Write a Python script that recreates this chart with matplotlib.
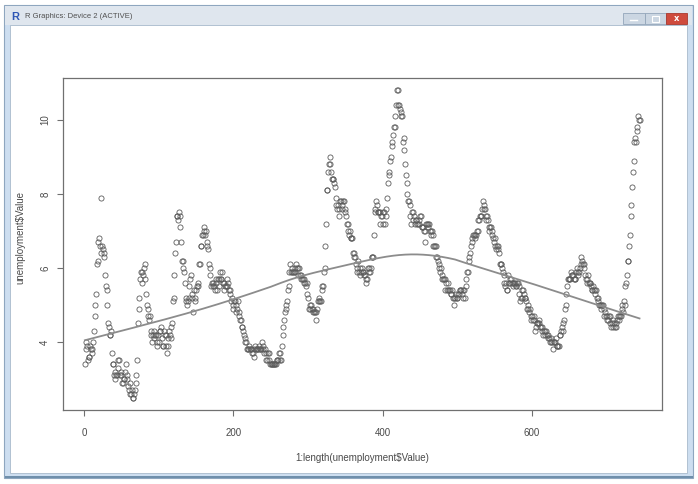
import numpy as np
import matplotlib
matplotlib.use("Agg")
import matplotlib.pyplot as plt
from matplotlib.patches import Rectangle

# ---- data: monthly unemployment rate values ----
rate_1948_1959 = [
    3.4, 3.8, 4.0, 3.9, 3.5, 3.6, 3.6, 3.9, 3.8, 3.7, 3.8, 4.0,
    4.3, 4.7, 5.0, 5.3, 6.1, 6.2, 6.7, 6.8, 6.6, 7.9, 6.4, 6.6,
    6.5, 6.4, 6.3, 5.8, 5.5, 5.4, 5.0, 4.5, 4.4, 4.2, 4.2, 4.3,
    3.7, 3.4, 3.4, 3.1, 3.0, 3.2, 3.1, 3.1, 3.3, 3.5, 3.5, 3.1,
    3.2, 3.1, 2.9, 2.9, 3.0, 3.0, 3.2, 3.4, 3.1, 3.0, 2.8, 2.7,
    2.9, 2.6, 2.6, 2.7, 2.5, 2.5, 2.6, 2.7, 2.9, 3.1, 3.5, 4.5,
    4.9, 5.2, 5.7, 5.9, 5.9, 5.6, 5.8, 6.0, 6.1, 5.7, 5.3, 5.0,
    4.9, 4.7, 4.6, 4.7, 4.3, 4.2, 4.0, 4.2, 4.1, 4.3, 4.2, 4.2,
    4.0, 3.9, 4.2, 4.0, 4.3, 4.3, 4.4, 4.1, 3.9, 3.9, 4.3, 4.2,
    4.2, 3.9, 3.7, 3.9, 4.1, 4.3, 4.2, 4.1, 4.4, 4.5, 5.1, 5.2,
    5.8, 6.4, 6.7, 7.4, 7.4, 7.3, 7.5, 7.4, 7.1, 6.7, 6.2, 6.2,
    6.0, 5.9, 5.6, 5.2, 5.1, 5.0, 5.1, 5.2, 5.5, 5.7, 5.8, 5.3,
]
rate_1960s = [
    5.2, 4.8, 5.4, 5.2, 5.1, 5.4, 5.5, 5.6, 5.5, 6.1, 6.1, 6.6,
    6.6, 6.9, 6.9, 7.0, 7.1, 6.9, 7.0, 6.6, 6.7, 6.5, 6.1, 6.0,
    5.8, 5.5, 5.6, 5.6, 5.5, 5.5, 5.4, 5.7, 5.6, 5.4, 5.7, 5.5,
    5.7, 5.9, 5.7, 5.7, 5.9, 5.6, 5.6, 5.4, 5.5, 5.5, 5.7, 5.5,
    5.6, 5.4, 5.4, 5.3, 5.1, 5.2, 4.9, 5.0, 5.1, 5.1, 4.8, 5.0,
    4.9, 5.1, 4.7, 4.8, 4.6, 4.6, 4.4, 4.4, 4.3, 4.2, 4.1, 4.0,
    4.0, 3.8, 3.8, 3.8, 3.9, 3.8, 3.8, 3.8, 3.7, 3.7, 3.6, 3.8,
    3.9, 3.8, 3.8, 3.8, 3.8, 3.9, 3.8, 3.8, 3.8, 4.0, 3.9, 3.8,
    3.7, 3.8, 3.7, 3.5, 3.5, 3.7, 3.7, 3.5, 3.4, 3.4, 3.4, 3.4,
    3.4, 3.4, 3.4, 3.4, 3.4, 3.5, 3.5, 3.5, 3.7, 3.7, 3.5, 3.5,
]
rate_1970s = [
    3.9, 4.2, 4.4, 4.6, 4.8, 4.9, 5.0, 5.1, 5.4, 5.5, 5.9, 6.1,
    5.9, 5.9, 6.0, 5.9, 5.9, 5.9, 6.0, 6.1, 6.0, 5.8, 6.0, 6.0,
    5.8, 5.7, 5.8, 5.7, 5.7, 5.7, 5.6, 5.6, 5.5, 5.6, 5.3, 5.2,
    4.9, 5.0, 4.9, 5.0, 4.9, 4.9, 4.8, 4.8, 4.8, 4.6, 4.8, 4.9,
    5.1, 5.2, 5.1, 5.1, 5.1, 5.4, 5.5, 5.5, 5.9, 6.0, 6.6, 7.2,
    8.1, 8.1, 8.6, 8.8, 9.0, 8.8, 8.6, 8.4, 8.4, 8.4, 8.3, 8.2,
    7.9, 7.7, 7.6, 7.7, 7.4, 7.6, 7.8, 7.8, 7.6, 7.7, 7.8, 7.8,
    7.5, 7.6, 7.4, 7.2, 7.0, 7.2, 6.9, 7.0, 6.8, 6.8, 6.8, 6.4,
    6.4, 6.3, 6.3, 6.1, 6.0, 5.9, 6.2, 5.9, 6.0, 5.8, 5.9, 6.0,
    5.9, 5.9, 5.8, 5.8, 5.6, 5.7, 5.7, 6.0, 5.9, 6.0, 5.9, 6.0,
]
rate_1980s = [
    6.3, 6.3, 6.3, 6.9, 7.5, 7.6, 7.8, 7.7, 7.5, 7.5, 7.5, 7.2,
    7.5, 7.4, 7.4, 7.2, 7.5, 7.5, 7.2, 7.4, 7.6, 7.9, 8.3, 8.5,
    8.6, 8.9, 9.0, 9.3, 9.4, 9.6, 9.8, 9.8, 10.1, 10.4, 10.8, 10.8,
    10.4, 10.4, 10.3, 10.2, 10.1, 10.1, 9.4, 9.5, 9.2, 8.8, 8.5, 8.3,
    8.0, 7.8, 7.8, 7.7, 7.4, 7.2, 7.5, 7.5, 7.3, 7.4, 7.2, 7.3,
    7.3, 7.2, 7.2, 7.3, 7.2, 7.4, 7.4, 7.1, 7.1, 7.1, 7.0, 7.0,
    6.7, 7.2, 7.2, 7.1, 7.2, 7.2, 7.0, 6.9, 7.0, 7.0, 6.9, 6.6,
    6.6, 6.6, 6.6, 6.3, 6.3, 6.2, 6.1, 6.0, 5.9, 6.0, 5.8, 5.7,
    5.7, 5.7, 5.7, 5.4, 5.6, 5.4, 5.4, 5.6, 5.4, 5.4, 5.3, 5.3,
    5.4, 5.2, 5.0, 5.2, 5.2, 5.3, 5.2, 5.2, 5.3, 5.3, 5.4, 5.4,
]
rate_1990s = [
    5.4, 5.3, 5.2, 5.4, 5.4, 5.2, 5.5, 5.7, 5.9, 5.9, 6.2, 6.3,
    6.4, 6.6, 6.8, 6.7, 6.9, 6.9, 6.8, 6.9, 6.9, 7.0, 7.0, 7.3,
    7.3, 7.4, 7.4, 7.4, 7.6, 7.8, 7.7, 7.6, 7.6, 7.3, 7.4, 7.4,
    7.3, 7.1, 7.0, 7.1, 7.1, 7.0, 6.9, 6.8, 6.7, 6.8, 6.6, 6.5,
    6.6, 6.6, 6.5, 6.4, 6.1, 6.1, 6.1, 6.0, 5.9, 5.8, 5.6, 5.5,
    5.6, 5.4, 5.4, 5.8, 5.6, 5.6, 5.7, 5.7, 5.6, 5.5, 5.6, 5.6,
    5.6, 5.5, 5.5, 5.6, 5.6, 5.3, 5.5, 5.1, 5.2, 5.2, 5.4, 5.4,
    5.3, 5.2, 5.2, 5.1, 4.9, 5.0, 4.9, 4.8, 4.9, 4.7, 4.6, 4.7,
    4.6, 4.6, 4.7, 4.3, 4.4, 4.5, 4.5, 4.5, 4.6, 4.5, 4.4, 4.4,
    4.3, 4.4, 4.2, 4.3, 4.2, 4.3, 4.3, 4.2, 4.2, 4.1, 4.1, 4.0,
]
rate_2000s = [
    4.0, 4.1, 4.0, 3.8, 4.0, 4.0, 4.0, 4.1, 3.9, 3.9, 3.9, 3.9,
    4.2, 4.2, 4.3, 4.4, 4.3, 4.5, 4.6, 4.9, 5.0, 5.3, 5.5, 5.7,
    5.7, 5.7, 5.7, 5.9, 5.8, 5.8, 5.8, 5.7, 5.7, 5.7, 5.9, 6.0,
    5.8, 5.9, 5.9, 6.0, 6.1, 6.3, 6.2, 6.1, 6.1, 6.0, 5.8, 5.7,
    5.7, 5.6, 5.8, 5.6, 5.6, 5.6, 5.5, 5.4, 5.4, 5.5, 5.4, 5.4,
    5.3, 5.4, 5.2, 5.2, 5.1, 5.0, 5.0, 4.9, 5.0, 5.0, 5.0, 4.9,
    4.7, 4.8, 4.7, 4.7, 4.6, 4.6, 4.7, 4.7, 4.5, 4.4, 4.5, 4.4,
    4.6, 4.5, 4.4, 4.5, 4.4, 4.6, 4.7, 4.6, 4.7, 4.7, 4.7, 5.0,
    4.9, 4.8, 5.1, 5.0, 5.5, 5.6, 5.8, 6.2, 6.2, 6.6, 6.9, 7.4,
    7.7, 8.2, 8.6, 8.9, 9.4, 9.5, 9.4, 9.7, 9.8, 10.1, 10.0, 10.0,
]
x_ticks = [0, 200, 400, 600]
y_ticks = [4, 6, 8, 10]
x_label = "1:length(unemployment$Value)"
y_label = "unemployment$Value"
window_title = "R Graphics: Device 2 (ACTIVE)"

values = np.array(rate_1948_1959 + rate_1960s + rate_1970s + rate_1980s
                  + rate_1990s + rate_2000s, dtype=float)
idx = np.arange(1, len(values) + 1, dtype=float)


def lowess(x, y, f=2.0 / 3.0, iters=3):
    n = len(x)
    ns = max(min(int(round(f * n)), n), 2)
    rw = np.ones(n)
    fit = np.zeros(n)
    for it in range(iters + 1):
        for i in range(n):
            d = np.abs(x - x[i])
            h = np.sort(d)[ns - 1]
            u = d / h
            w = np.where(u < 1, (1 - u ** 3) ** 3, 0.0) * rw
            sw = w.sum()
            xm = (w * x).sum() / sw
            ym = (w * y).sum() / sw
            vx = (w * (x - xm) ** 2).sum()
            if vx > 1e-12:
                b = (w * (x - xm) * (y - ym)).sum() / vx
            else:
                b = 0.0
            fit[i] = ym + b * (x[i] - xm)
        if it < iters:
            res = y - fit
            s = np.median(np.abs(res))
            u = res / (6 * s)
            rw = np.where(np.abs(u) < 1, (1 - u ** 2) ** 2, 0.0)
    return fit


smooth = lowess(idx, values)

W, H = 698, 484
fig = plt.figure(figsize=(W / 100, H / 100), dpi=100)
fig.patch.set_facecolor("white")

# ---- window frame (pixel coordinates) ----
bg = fig.add_axes([0, 0, 1, 1])
bg.set_xlim(0, W)
bg.set_ylim(H, 0)
bg.axis("off")
bg.add_patch(Rectangle((4, 5), 689, 473, facecolor="#cddef0",
                       edgecolor="#8ea6bf", lw=0.8))
bg.add_patch(Rectangle((5, 6), 687, 19, facecolor="#dfe6ee", edgecolor="none"))
bg.add_patch(Rectangle((4.5, 475.5), 688, 2.5, facecolor="#6f8fab", edgecolor="none"))
bg.add_patch(Rectangle((10, 25), 677, 448, facecolor="white",
                       edgecolor="#a9bacb", lw=0.6))
bg.text(15.5, 17, "R", color="#2f57b5", fontsize=8, fontweight="bold",
        ha="center", va="center", family="Liberation Sans")
bg.text(25, 17, window_title, color="#505050", fontsize=5.5,
        ha="left", va="center", family="Liberation Sans")
bg.add_patch(Rectangle((623, 13), 21.5, 11, facecolor="#cbd6e2",
                       edgecolor="#93a6ba", lw=0.6))
bg.add_patch(Rectangle((644.5, 13), 21.5, 11, facecolor="#cbd6e2",
                       edgecolor="#93a6ba", lw=0.6))
bg.add_patch(Rectangle((666, 13), 21, 11, facecolor="#cf4b3d",
                       edgecolor="#a8392e", lw=0.6))
bg.plot([630, 637], [20, 20], color="white", lw=1.0)
bg.add_patch(Rectangle((651.5, 15.5), 7, 6, facecolor="none",
                       edgecolor="white", lw=0.8))
bg.text(676.5, 18.5, "x", color="white", fontsize=6, fontweight="bold",
        ha="center", va="center", family="DejaVu Sans")

# ---- plot area ----
left, right, top, bottom = 62.7, 661.7, 78.0, 409.8
ax = fig.add_axes([left / W, 1 - bottom / H, (right - left) / W, (bottom - top) / H])
ax.set_facecolor("white")

n = len(values)
xr = (n - 1) * 0.04
ax.set_xlim(1 - xr, n + xr)
yr = (values.max() - values.min()) * 0.04
ax.set_ylim(values.min() - yr, values.max() + yr)

ax.plot(idx, values, linestyle="none", marker="o", markersize=3.7,
        markerfacecolor="none", markeredgecolor="#5c5c5c", markeredgewidth=0.6)
ax.plot(idx, smooth, color="#8c8c8c", lw=1.3)

for s in ax.spines.values():
    s.set_color("#707070")
    s.set_linewidth(0.9)
ax.set_xticks(x_ticks)
ax.set_yticks(y_ticks)
ax.tick_params(axis="both", direction="out", length=4, width=0.8,
               color="#707070", labelcolor="#4a4a4a", labelsize=7)
ax.tick_params(axis="x", pad=9)
ax.tick_params(axis="y", pad=5)
for lab in ax.get_xticklabels() + ax.get_yticklabels():
    lab.set_family("Liberation Sans")
for lab in ax.get_yticklabels():
    lab.set_rotation(90)
    lab.set_va("center")

bg.text((left + right) / 2, 458, x_label, color="#4a4a4a", fontsize=7,
        ha="center", va="center", family="Liberation Sans")
bg.text(20, 238, y_label, color="#4a4a4a", fontsize=7, rotation=90,
        ha="center", va="center", family="Liberation Sans")

fig.savefig("out.png", dpi=100)
